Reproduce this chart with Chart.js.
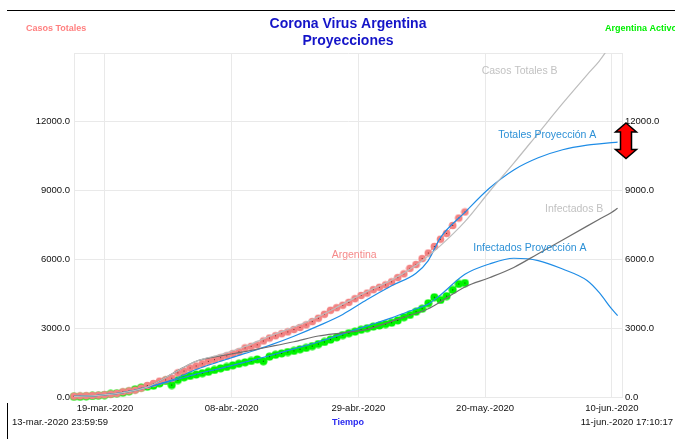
<!DOCTYPE html>
<html>
<head>
<meta charset="utf-8">
<script src="https://cdn.jsdelivr.net/npm/chart.js@4.4.1/dist/chart.umd.min.js"></script>
<style>
  html, body { margin: 0; padding: 0; background: #fff; }
</style>
</head>
<body>
<canvas id="chart" width="675" height="439"></canvas>
<script>
// x axis is days counted from 14-mar-2020 00:00
const dayTicks = [5.07, 25.8, 46.55, 67.3, 88.05];
const dayTickLabels = ["19-mar.-2020", "08-abr.-2020", "29-abr.-2020", "20-may.-2020", "10-jun.-2020"];
const valueTicks = [0, 3000, 6000, 9000, 12000];

// daily observed series (14-mar .. 17-may)
const argentinaCases = [
  34, 45, 56, 65, 79, 97, 128, 158, 225, 266, 301, 387, 502, 589, 690, 745, 820, 1054,
  1133, 1265, 1353, 1451, 1554, 1628, 1715, 1795, 1894, 1975, 2142, 2208, 2277, 2443, 2571,
  2669, 2758, 2839, 2941, 3031, 3144, 3288, 3435, 3607, 3780, 3892, 4003, 4127, 4285, 4428,
  4532, 4681, 4783, 4887, 5020, 5208, 5371, 5611, 5776, 6034, 6278, 6563, 6879, 7134, 7479,
  7805, 8068,
];
const argentinaActive = [
  13, 13, 30, 44, 58, 87, 131, 160, 189, 247,
  334, 407, 450, 494, 596, 698, 523, 741, 858, 920,
  980, 1040, 1100, 1180, 1250, 1310, 1380, 1450, 1510, 1570,
  1640, 1560, 1760, 1840, 1900, 1960, 2010, 2080, 2140, 2220,
  2310, 2400, 2500, 2600, 2700, 2780, 2850, 2930, 3000, 3070,
  3120, 3180, 3240, 3340, 3480, 3580, 3720, 3850, 4090, 4350,
  4230, 4400, 4670, 4930, 4970,
];

// projections
const projDays = [0, 4, 8, 12, 16, 20, 24, 28, 32, 36, 40, 44, 48, 52, 56, 58, 60, 64, 68, 72, 76, 80, 84, 86, 88, 89];
const totalesA = [30, 75, 190, 430, 740, 1200, 1560, 1900, 2250, 2650, 3100, 3600, 4250, 4850, 5400, 5950, 6950, 8050, 9100, 9900, 10430, 10780, 10980, 11040, 11090, 11110];
const infectadosA = [30, 75, 190, 420, 700, 1000, 1250, 1520, 1800, 2100, 2400, 2750, 3100, 3450, 3850, 4050, 4450, 5350, 5800, 6050, 5950, 5580, 5080, 4550, 3850, 3550];
const totalesB = [30, 75, 190, 430, 1000, 1560, 1850, 2200, 2650, 3050, 3500, 4050, 4600, 5100, 5750, 6150, 6600, 7650, 8950, 10200, 11500, 12800, 14050, 14650, 15400, 15750];
const infectadosB = [30, 75, 190, 430, 1000, 1560, 1790, 1980, 2190, 2410, 2660, 2800, 2950, 3300, 3650, 3850, 4150, 4800, 5200, 5650, 6250, 6850, 7450, 7750, 8050, 8230];

// in-plot labels (anchored at day / value)
const labelTexts = ["Casos Totales B", "Totales Proyección A", "Infectados B", "Infectados Proyección A", "Argentina"];
const labelDays = [66.75, 69.47, 77.11, 65.37, 42.19];
const labelValues = [14220, 11430, 8190, 6510, 6180];
const labelColors = ["#c2c2c2", "#2c90d6", "#c2c2c2", "#2c90d6", "#f58a8a"];

// red double arrow on the right edge, value range
const arrowRange = [10400, 11950];

const FONT = "'Liberation Sans', Arial, sans-serif";
Chart.defaults.font.family = FONT;

function makeMarker(fill, dot, r) {
  const s = Math.ceil(r * 2) + 1;
  const c = document.createElement("canvas");
  c.width = s;
  c.height = s;
  const g = c.getContext("2d");
  g.fillStyle = fill;
  g.beginPath();
  g.arc(s / 2, s / 2, r, 0, Math.PI * 2);
  g.fill();
  g.fillStyle = dot;
  g.fillRect(Math.floor(s / 2), Math.floor(s / 2), 1, 1);
  return c;
}

function toPoints(days, values) {
  return values.map((v, i) => ({ x: days[i], y: v }));
}

const dailyDays = argentinaCases.map((_, i) => i);

const extras = {
  id: "extras",
  afterDraw(chart) {
    const { ctx, chartArea, scales } = chart;
    const x = scales.x;
    const y = scales.y;
    ctx.save();

    // frame lines
    ctx.strokeStyle = "#000";
    ctx.lineWidth = 1;
    ctx.beginPath();
    ctx.moveTo(7, 10.5);
    ctx.lineTo(675, 10.5);
    ctx.moveTo(7.5, 403);
    ctx.lineTo(7.5, 439);
    ctx.stroke();

    // corner labels
    ctx.textBaseline = "middle";
    ctx.font = "bold 9px " + FONT;
    ctx.fillStyle = "#ff8080";
    ctx.textAlign = "left";
    ctx.fillText("Casos Totales", 26, 29);
    ctx.fillStyle = "#00ee00";
    ctx.fillText("Argentina Activos", 605, 29);

    // bottom labels
    ctx.font = "9.5px " + FONT;
    ctx.fillStyle = "#111";
    ctx.fillText("13-mar.-2020 23:59:59", 12, 422.5);
    ctx.textAlign = "right";
    ctx.fillText("11-jun.-2020 17:10:17", 673, 422.5);
    ctx.textAlign = "center";
    ctx.font = "bold 9px " + FONT;
    ctx.fillStyle = "#2a2af0";
    ctx.fillText("Tiempo", (chartArea.left + chartArea.right) / 2, 422.5);

    // series labels
    ctx.font = "10.5px " + FONT;
    ctx.textAlign = "left";
    labelTexts.forEach((t, i) => {
      ctx.fillStyle = labelColors[i];
      ctx.fillText(t, x.getPixelForValue(labelDays[i]), y.getPixelForValue(labelValues[i]));
    });

    // double arrow
    const cx = chartArea.right + 4;
    const top = y.getPixelForValue(arrowRange[1]);
    const bot = y.getPixelForValue(arrowRange[0]);
    const hw = 10.5, sw = 5.5, hh = 9;
    ctx.beginPath();
    ctx.moveTo(cx, top);
    ctx.lineTo(cx + hw, top + hh);
    ctx.lineTo(cx + sw, top + hh);
    ctx.lineTo(cx + sw, bot - hh);
    ctx.lineTo(cx + hw, bot - hh);
    ctx.lineTo(cx, bot);
    ctx.lineTo(cx - hw, bot - hh);
    ctx.lineTo(cx - sw, bot - hh);
    ctx.lineTo(cx - sw, top + hh);
    ctx.lineTo(cx - hw, top + hh);
    ctx.closePath();
    ctx.fillStyle = "#ff0000";
    ctx.fill();
    ctx.strokeStyle = "#000";
    ctx.lineWidth = 1.5;
    ctx.stroke();

    ctx.restore();
  },
};

const gridColor = "#e9e9e9";

new Chart(document.getElementById("chart"), {
  type: "line",
  data: {
    datasets: [
      {
        label: "Casos Totales B",
        data: toPoints(projDays, totalesB),
        borderColor: "#bdbdbd",
        borderWidth: 1.2,
        pointRadius: 0,
      },
      {
        label: "Infectados B",
        data: toPoints(projDays, infectadosB),
        borderColor: "#6e6e6e",
        borderWidth: 1.2,
        pointRadius: 0,
      },
      {
        label: "Totales Proyección A",
        data: toPoints(projDays, totalesA),
        borderColor: "#1e8ce6",
        borderWidth: 1.2,
        pointRadius: 0,
      },
      {
        label: "Infectados Proyección A",
        data: toPoints(projDays, infectadosA),
        borderColor: "#1e8ce6",
        borderWidth: 1.2,
        pointRadius: 0,
      },
      {
        label: "Argentina",
        data: toPoints(dailyDays, argentinaCases),
        borderColor: "#f08080",
        borderWidth: 1,
        pointStyle: makeMarker("#f38383", "#7a2020", 3.8),
        pointRadius: 4,
        clip: false,
      },
      {
        label: "Argentina Activos",
        data: toPoints(dailyDays, argentinaActive),
        borderColor: "#00f000",
        borderWidth: 1,
        pointStyle: makeMarker("#00f400", "#064006", 4),
        pointRadius: 4,
        clip: false,
      },
    ],
  },
  options: {
    responsive: false,
    animation: false,
    cubicInterpolationMode: "monotone",
    layout: { padding: 0 },
    plugins: {
      legend: { display: false },
      tooltip: { enabled: false },
      title: {
        display: true,
        fullSize: false,
        text: ["Corona Virus Argentina", "Proyecciones"],
        color: "#1414c8",
        font: { size: 14, weight: "bold", lineHeight: 1.2 },
        padding: { top: 15.5, bottom: 3.9 },
      },
    },
    scales: {
      x: {
        type: "linear",
        min: 0,
        max: 89.72,
        afterBuildTicks: (s) => {
          s.ticks = dayTicks.map((v) => ({ value: v }));
        },
        afterFit: (s) => {
          s.height = 42;
        },
        ticks: {
          autoSkip: false,
          maxRotation: 0,
          padding: 6,
          color: "#111",
          font: { size: 9.5 },
          callback: (v, i) => dayTickLabels[i],
        },
        grid: { color: gridColor, drawTicks: false },
        border: { color: gridColor },
      },
      y: {
        position: "left",
        min: 0,
        max: 15000,
        afterBuildTicks: (s) => {
          s.ticks = valueTicks.concat([15000]).map((v) => ({ value: v }));
        },
        afterFit: (s) => {
          s.width = 74;
        },
        ticks: {
          padding: 4,
          color: "#111",
          font: { size: 9.5 },
          callback: (v) => (valueTicks.includes(v) ? v.toFixed(1) : ""),
        },
        grid: { color: gridColor, drawTicks: false },
        border: { color: gridColor },
      },
      y2: {
        position: "right",
        min: 0,
        max: 15000,
        afterBuildTicks: (s) => {
          s.ticks = valueTicks.map((v) => ({ value: v }));
        },
        afterFit: (s) => {
          s.width = 53;
        },
        ticks: {
          padding: 3,
          color: "#111",
          font: { size: 9.5 },
          callback: (v) => v.toFixed(1),
        },
        grid: { display: false, drawTicks: false },
        border: { color: gridColor },
      },
    },
  },
  plugins: [extras],
});
</script>
</body>
</html>
